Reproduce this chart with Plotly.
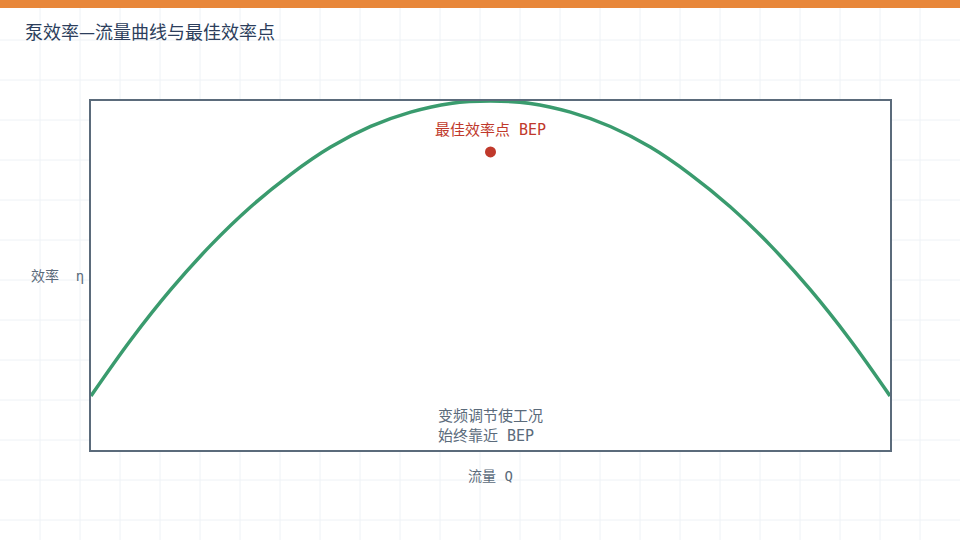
import plotly.graph_objects as go

# ---- data ----
flow_q = [0, 5, 10, 15, 20, 25, 30, 35, 40, 45, 50, 55, 60, 65, 70, 75, 80, 85, 90, 95, 100]
efficiency = [15.5, 31.6, 46.0, 58.7, 69.7, 79.0, 86.8, 92.7, 96.8, 99.3, 100.0,
              99.3, 96.8, 92.7, 86.8, 79.0, 69.7, 58.7, 46.0, 31.6, 15.5]
bep_q = [50]
bep_eta = [85.4]

title_text = "泵效率—流量曲线与最佳效率点"
bep_label = "最佳效率点 BEP"
note_text = "变频调节使工况<br>始终靠近 BEP"
x_title = "流量 Q"
y_title = "效率 \u2009η"

# ---- styles ----
W, H = 960, 540
ML, MR, MT, MB = 91, 70, 101, 90
PW, PH = W - ML - MR, H - MT - MB
SLATE = "#5b6b7b"
RED = "#c0392b"
GREEN = "#3a9b6e"
GRID = "#eef2f6"
MONO = "DejaVu Sans Mono, Noto Sans CJK SC, monospace"
SANS = "Noto Sans CJK SC, Noto Sans, sans-serif"


def px_x(px):
    return (px - ML) / PW


def px_y(py):
    return (H - MB - py) / PH


shapes = []
# page background grid
for gx in range(40, W, 40):
    shapes.append(dict(type="line", xref="paper", yref="paper", layer="below",
                       x0=px_x(gx), x1=px_x(gx), y0=px_y(0), y1=px_y(H),
                       line=dict(color=GRID, width=1)))
for gy in range(40, H, 40):
    shapes.append(dict(type="line", xref="paper", yref="paper", layer="below",
                       x0=px_x(0), x1=px_x(W), y0=px_y(gy), y1=px_y(gy),
                       line=dict(color=GRID, width=1)))
# white plot area over grid
shapes.append(dict(type="rect", xref="paper", yref="paper", layer="below",
                   x0=0, x1=1, y0=0, y1=1, fillcolor="white", line=dict(width=0)))
# orange top bar
shapes.append(dict(type="rect", xref="paper", yref="paper", layer="above",
                   x0=px_x(0), x1=px_x(W), y0=px_y(8), y1=px_y(0),
                   fillcolor="#e8873a", line=dict(width=0)))

fig = go.Figure()
fig.add_trace(go.Scatter(x=flow_q, y=efficiency, mode="lines",
                         line=dict(color=GREEN, width=3.5, shape="spline"),
                         cliponaxis=False, hoverinfo="skip", showlegend=False))
fig.add_trace(go.Scatter(x=bep_q, y=bep_eta, mode="markers",
                         marker=dict(color=RED, size=11),
                         cliponaxis=False, hoverinfo="skip", showlegend=False))

annotations = [
    dict(x=bep_q[0], y=bep_eta[0], xref="x", yref="y", text=bep_label,
         showarrow=False, yanchor="middle", yshift=22,
         font=dict(family=MONO, size=15, color=RED)),
    dict(x=bep_q[0], y=0, xref="x", yref="y", text=note_text, align="left",
         showarrow=False, xanchor="center", yanchor="middle", yshift=24,
         font=dict(family=MONO, size=15, color=SLATE)),
    dict(x=0.5, y=0, xref="paper", yref="paper", text=x_title, showarrow=False,
         xanchor="center", yanchor="middle", yshift=-26,
         font=dict(family=MONO, size=14, color=SLATE)),
    dict(x=0, y=0.5, xref="paper", yref="paper", text=y_title, showarrow=False,
         xanchor="right", yanchor="middle", xshift=-5,
         font=dict(family=MONO, size=14, color=SLATE)),
]

fig.update_layout(
    width=W, height=H, autosize=False,
    margin=dict(l=ML, r=MR, t=MT, b=MB, pad=0),
    paper_bgcolor="white", plot_bgcolor="white",
    title=dict(text=title_text, xref="container", yref="container",
               x=25 / W, xanchor="left", y=1 - 33 / H, yanchor="middle",
               font=dict(family=SANS, size=18, color="#2c3e5c")),
    xaxis=dict(range=[0, 100], showgrid=False, zeroline=False, showticklabels=False,
               ticks="", showline=True, mirror=True, linecolor=SLATE, linewidth=2,
               layer="below traces", fixedrange=True),
    yaxis=dict(range=[0, 100], showgrid=False, zeroline=False, showticklabels=False,
               ticks="", showline=True, mirror=True, linecolor=SLATE, linewidth=2,
               layer="below traces", fixedrange=True),
    shapes=shapes,
    annotations=annotations,
    showlegend=False,
)

fig.write_html("out.html", config={"displayModeBar": False},
               post_script="document.body.style.margin='0';document.body.style.overflow='hidden';")
